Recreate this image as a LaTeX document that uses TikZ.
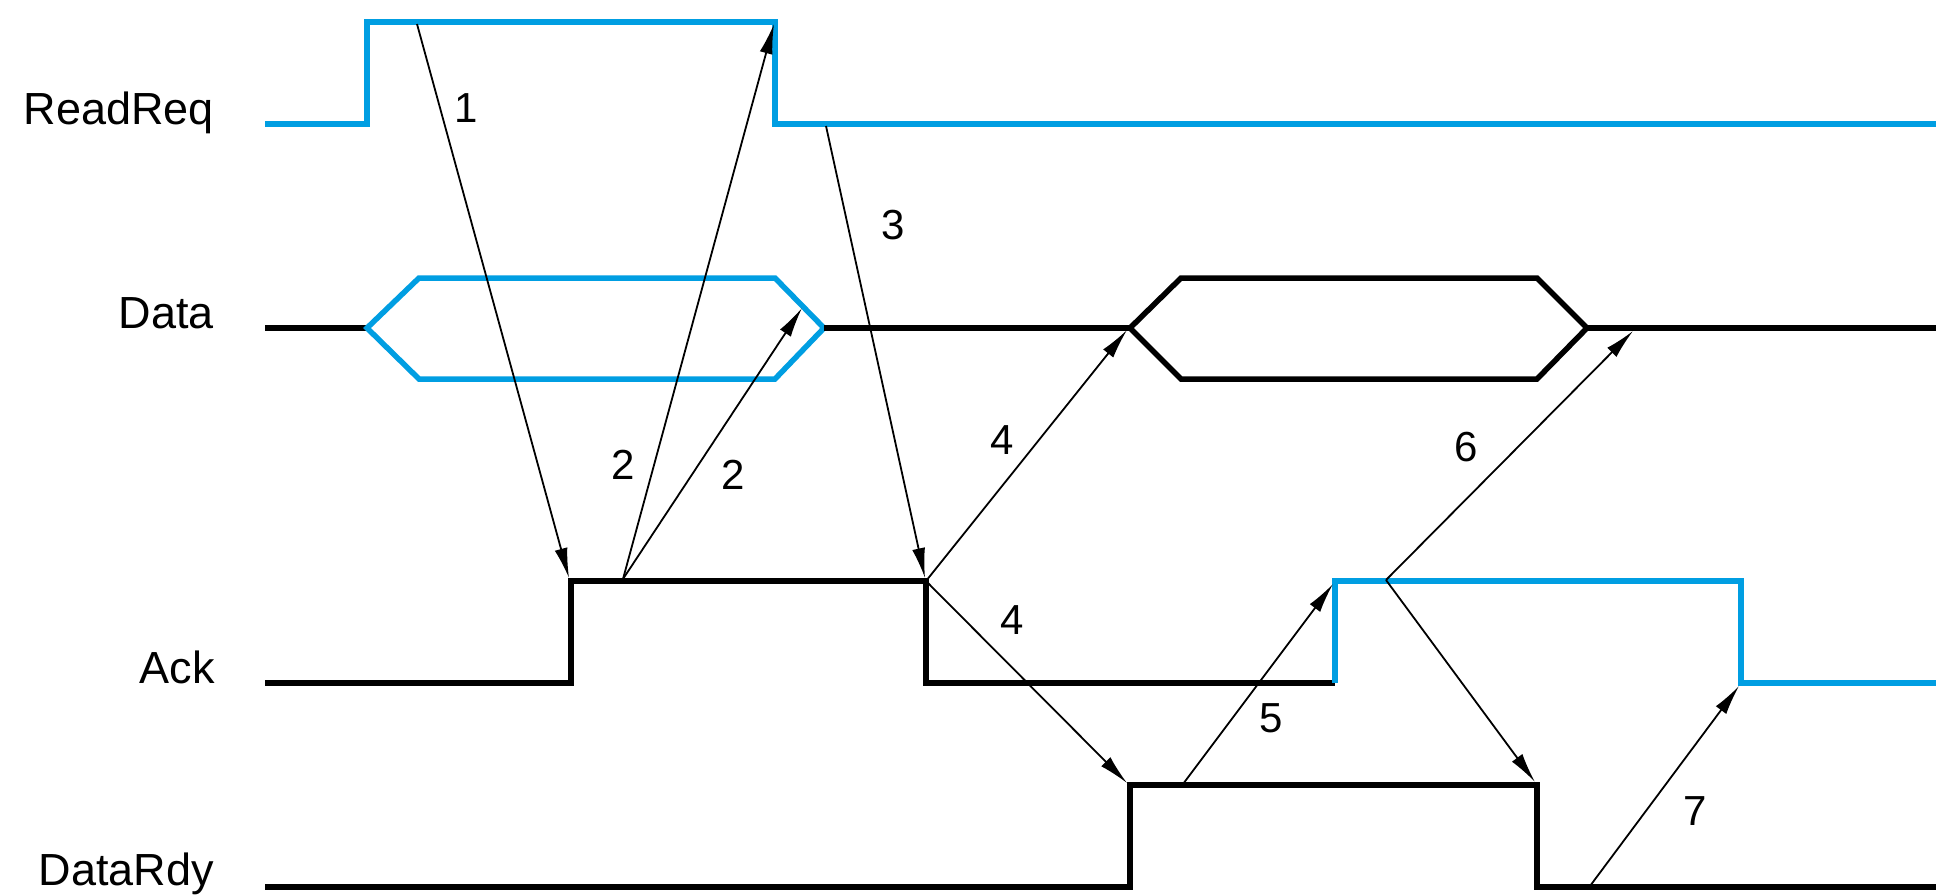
\documentclass[tikz,border=0pt]{standalone}
\usepackage{fontspec}
\setmainfont{Liberation Sans}
\usetikzlibrary{arrows.meta}
\definecolor{sigblue}{RGB}{0,158,226}
\begin{document}
\begin{tikzpicture}[x=1pt,y=-1pt,
  sig/.style={line width=5.5pt, line join=miter},
  bsig/.style={sig, draw=black},
  csig/.style={sig, draw=sigblue},
  evt/.style={line width=1.8pt, -{Latex[length=30pt,width=13pt]}},
  lbl/.style={anchor=base east, font=\fontsize{45}{50}\selectfont, inner sep=0pt},
  num/.style={font=\fontsize{42}{46}\selectfont, inner sep=0pt},
]
\useasboundingbox (0,0) rectangle (1936,895);
\fill[white] (0,0) rectangle (1936,895);

% signal labels
\node[lbl] (lrr) at (214,124) {ReadReq};
\node[lbl] (ld) at (214,328) {Data};
\node[lbl] (la) at (215,683) {Ack};
\node[lbl] (ldr) at (214,885) {DataRdy};

% ReadReq
\draw[csig] (265,124) -- (367,124) -- (367,22) -- (775,22) -- (775,124) -- (1936,124);
% Data
\draw[bsig] (265,328) -- (367,328);
\draw[csig] (367,328) -- (419,278) -- (775,278) -- (824,328) -- (775,379) -- (419,379) -- cycle;
\draw[bsig] (824,328) -- (1130,328);
\draw[bsig] (1130,328) -- (1181,278) -- (1537,278) -- (1587,328) -- (1537,379) -- (1181,379) -- cycle;
\draw[bsig] (1587,328) -- (1936,328);
% Ack
\draw[bsig] (265,683) -- (571,683) -- (571,581) -- (926,581) -- (926,683) -- (1335,683);
\draw[csig] (1335,683) -- (1335,581) -- (1741,581) -- (1741,683) -- (1936,683);
% DataRdy
\draw[bsig] (265,887) -- (1130,887) -- (1130,785) -- (1537,785) -- (1537,887) -- (1936,887);

% event coordinates
\coordinate (a1s) at (417,24);
\coordinate (a1e) at (569,578);
\coordinate (a2s) at (623,579);
\coordinate (a2e) at (774,24);
\coordinate (a2f) at (802,308);
\coordinate (a3s) at (826,126);
\coordinate (a3e) at (925,578);
\coordinate (a4s) at (926,581);
\coordinate (a4e) at (1127,330);
\coordinate (a4f) at (1127,783);
\coordinate (a5s) at (1183,784);
\coordinate (a5e) at (1333,584);
\coordinate (a6s) at (1386,580);
\coordinate (a6e) at (1633,331);
\coordinate (a6f) at (1535,782);
\coordinate (a7s) at (1590,886);
\coordinate (a7e) at (1739,686);

\draw[evt] (a1s) -- (a1e);
\draw[evt] (a2s) -- (a2e);
\draw[evt] (a2s) -- (a2f);
\draw[evt] (a3s) -- (a3e);
\draw[evt] (a4s) -- (a4e);
\draw[evt] (a4s) -- (a4f);
\draw[evt] (a5s) -- (a5e);
\draw[evt] (a6s) -- (a6e);
\draw[evt] (a6s) -- (a6f);
\draw[evt] (a7s) -- (a7e);

% event numbers
\node[num] (n1) at (466,108) {1};
\node[num] (n2a) at (623,465) {2};
\node[num] (n2b) at (733,475) {2};
\node[num] (n3) at (893,225) {3};
\node[num] (n4a) at (1002,440) {4};
\node[num] (n4b) at (1012,620) {4};
\node[num] (n5) at (1271,718) {5};
\node[num] (n6) at (1466,447) {6};
\node[num] (n7) at (1695,811) {7};
\end{tikzpicture}
\end{document}
